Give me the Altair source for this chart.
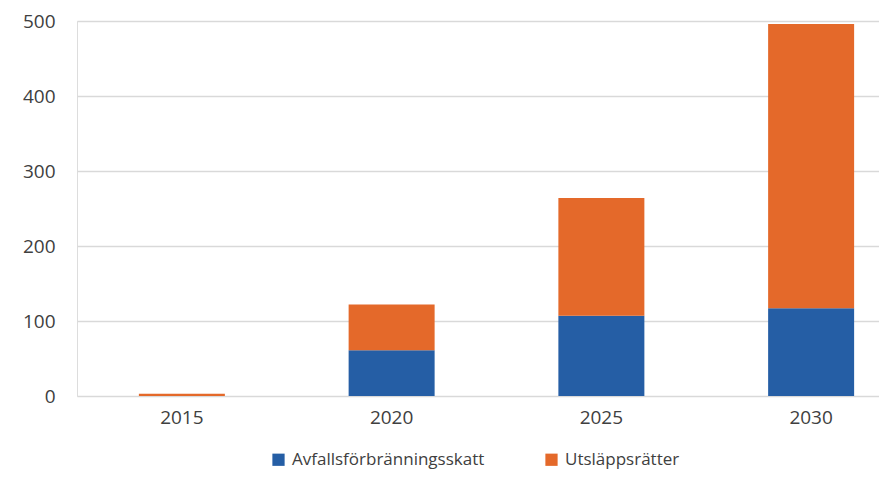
import altair as alt
import pandas as pd

years = ["2015", "2020", "2025", "2030"]
tax = [0, 61, 107, 117]          # Avfallsförbränningsskatt
allowances = [3, 61, 157, 379]   # Utsläppsrätter
series = ["Avfallsförbränningsskatt", "Utsläppsrätter"]
colors = ["#255EA5", "#E4692A"]

rows = []
for y, a, b in zip(years, tax, allowances):
    rows.append({"year": y, "series": series[0], "value": a, "ord": 0})
    rows.append({"year": y, "series": series[1], "value": b, "ord": 1})
df = pd.DataFrame(rows)

font = "Open Sans"

chart = alt.Chart(df).mark_bar().encode(
    x=alt.X("year:N", sort=years, title=None,
            scale=alt.Scale(paddingInner=0.59, paddingOuter=0.295, range=[0, 839]),
            axis=alt.Axis(labelAngle=0, ticks=False, domain=False, labelPadding=12,
                          labelFontSize=19, labelColor="#404040", labelFont=font)),
    y=alt.Y("value:Q", stack="zero", title=None,
            scale=alt.Scale(domain=[0, 500], nice=False),
            axis=alt.Axis(values=[0, 100, 200, 300, 400, 500], ticks=False, domain=False,
                          labelPadding=22, labelFontSize=19, labelColor="#404040",
                          labelFont=font, gridColor="#d9d9d9", gridWidth=1.5)),
    color=alt.Color("series:N", sort=series,
                    scale=alt.Scale(domain=series, range=colors),
                    legend=alt.Legend(title=None, orient="none", direction="horizontal",
                                      legendX=193, legendY=430, symbolType="square",
                                      symbolSize=150, symbolStrokeWidth=0,
                                      labelFontSize=17, labelColor="#404040",
                                      labelFont=font, columnPadding=58, labelOffset=5,
                                      labelLimit=0)),
    order=alt.Order("ord:Q"),
).properties(
    width=802, height=375,
    autosize=alt.AutoSizeParams(type="none"),
    padding={"left": 69, "top": 13, "right": 0, "bottom": 82},
).configure_view(stroke=None).configure(background="white")

chart.save("out.html", embed_options={"renderer": "svg", "actions": False})
